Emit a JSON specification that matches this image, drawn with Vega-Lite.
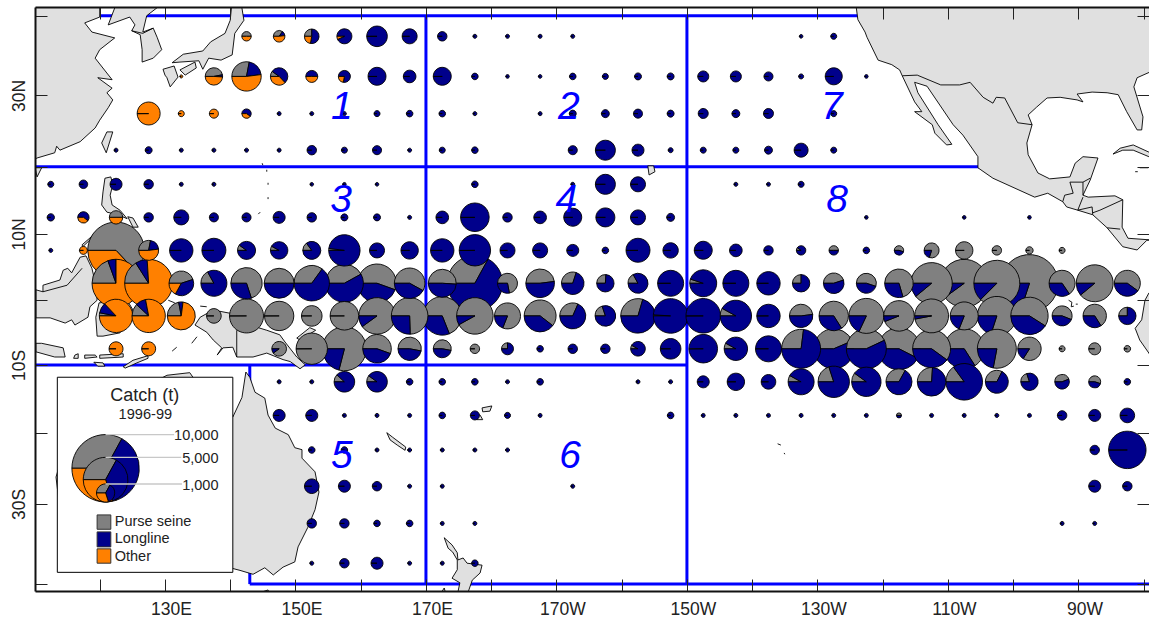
{"$schema":"https://vega.github.io/schema/vega-lite/v6.json","width":1114,"height":584,"autosize":{"type":"none"},"padding":{"left":35,"top":7,"right":0,"bottom":31},"background":"white","view":{"stroke":null},"config":{"font":"Liberation Sans"},
"datasets":{
"land":[
{"p":"china","lon":107.8,"y":45.9},{"p":"china","lon":120.0,"y":45.9},{"p":"china","lon":120.0,"y":43.3},{"p":"china","lon":117.7,"y":42.4},{"p":"china","lon":118.8,"y":41.0},{"p":"china","lon":122.3,"y":40.1},{"p":"china","lon":120.0,"y":38.3},{"p":"china","lon":119.3,"y":37.0},{"p":"china","lon":121.9,"y":33.7},{"p":"china","lon":119.7,"y":34.0},{"p":"china","lon":121.9,"y":32.4},{"p":"china","lon":121.1,"y":31.7},{"p":"china","lon":122.0,"y":30.6},{"p":"china","lon":121.3,"y":29.4},{"p":"china","lon":120.0,"y":27.5},{"p":"china","lon":119.3,"y":26.3},{"p":"china","lon":117.0,"y":24.2},{"p":"china","lon":113.9,"y":22.9},{"p":"china","lon":113.4,"y":23.5},{"p":"china","lon":113.1,"y":22.5},{"p":"china","lon":110.4,"y":21.7},{"p":"china","lon":107.8,"y":20.3},{"p":"china","lon":107.8,"y":45.9},
{"p":"korea","lon":122.3,"y":45.9},{"p":"korea","lon":122.3,"y":44.7},{"p":"korea","lon":121.3,"y":42.1},{"p":"korea","lon":124.6,"y":43.3},{"p":"korea","lon":125.4,"y":42.1},{"p":"korea","lon":124.9,"y":41.2},{"p":"korea","lon":126.2,"y":40.6},{"p":"korea","lon":126.5,"y":38.3},{"p":"korea","lon":126.5,"y":36.4},{"p":"korea","lon":128.2,"y":37.0},{"p":"korea","lon":129.5,"y":38.3},{"p":"korea","lon":128.8,"y":40.2},{"p":"korea","lon":128.2,"y":41.6},{"p":"korea","lon":126.6,"y":41.0},{"p":"korea","lon":127.2,"y":43.5},{"p":"korea","lon":130.3,"y":45.9},{"p":"korea","lon":122.3,"y":45.9},
{"p":"japan","lon":140.3,"y":45.9},{"p":"japan","lon":141.6,"y":45.9},{"p":"japan","lon":142.1,"y":42.8},{"p":"japan","lon":140.7,"y":40.8},{"p":"japan","lon":140.3,"y":37.5},{"p":"japan","lon":138.6,"y":36.7},{"p":"japan","lon":136.7,"y":37.0},{"p":"japan","lon":135.8,"y":35.3},{"p":"japan","lon":135.2,"y":36.6},{"p":"japan","lon":132.3,"y":36.4},{"p":"japan","lon":131.1,"y":36.3},{"p":"japan","lon":132.8,"y":37.6},{"p":"japan","lon":135.8,"y":38.1},{"p":"japan","lon":137.0,"y":39.5},{"p":"japan","lon":139.2,"y":40.8},{"p":"japan","lon":140.0,"y":42.8},{"p":"japan","lon":140.3,"y":45.9},
{"p":"shikoku","lon":132.3,"y":35.2},{"p":"shikoku","lon":134.6,"y":36.4},{"p":"shikoku","lon":134.8,"y":35.5},{"p":"shikoku","lon":133.1,"y":34.4},{"p":"shikoku","lon":132.3,"y":35.2},
{"p":"kyushu","lon":129.7,"y":35.3},{"p":"kyushu","lon":131.4,"y":35.8},{"p":"kyushu","lon":132.0,"y":34.1},{"p":"kyushu","lon":130.8,"y":32.6},{"p":"kyushu","lon":130.3,"y":34.0},{"p":"kyushu","lon":130.0,"y":34.4},{"p":"kyushu","lon":129.7,"y":35.3},
{"p":"taiwan","lon":120.3,"y":24.0},{"p":"taiwan","lon":121.1,"y":25.7},{"p":"taiwan","lon":122.0,"y":25.7},{"p":"taiwan","lon":121.0,"y":22.5},{"p":"taiwan","lon":120.3,"y":24.0},
{"p":"hainan","lon":110.1,"y":20.2},{"p":"hainan","lon":111.1,"y":20.2},{"p":"hainan","lon":110.4,"y":18.8},{"p":"hainan","lon":110.1,"y":20.2},
{"p":"luzon","lon":120.8,"y":18.6},{"p":"luzon","lon":121.7,"y":18.8},{"p":"luzon","lon":122.0,"y":17.6},{"p":"luzon","lon":121.6,"y":16.0},{"p":"luzon","lon":121.9,"y":14.5},{"p":"luzon","lon":123.1,"y":13.7},{"p":"luzon","lon":124.2,"y":12.4},{"p":"luzon","lon":122.8,"y":13.0},{"p":"luzon","lon":121.1,"y":13.4},{"p":"luzon","lon":120.3,"y":14.5},{"p":"luzon","lon":120.5,"y":16.5},{"p":"luzon","lon":120.8,"y":18.6},
{"p":"samar","lon":124.3,"y":12.7},{"p":"samar","lon":125.1,"y":12.5},{"p":"samar","lon":125.9,"y":11.1},{"p":"samar","lon":125.1,"y":11.1},{"p":"samar","lon":124.3,"y":12.7},
{"p":"palawan","lon":117.3,"y":8.4},{"p":"palawan","lon":119.6,"y":10.4},{"p":"palawan","lon":119.6,"y":10.2},{"p":"palawan","lon":117.4,"y":8.1},{"p":"palawan","lon":117.3,"y":8.4},
{"p":"borneo","lon":110.2,"y":1.5},{"p":"borneo","lon":111.3,"y":1.2},{"p":"borneo","lon":111.3,"y":2.2},{"p":"borneo","lon":113.9,"y":3.0},{"p":"borneo","lon":114.4,"y":4.5},{"p":"borneo","lon":115.1,"y":4.8},{"p":"borneo","lon":115.7,"y":4.1},{"p":"borneo","lon":117.0,"y":6.5},{"p":"borneo","lon":117.9,"y":6.7},{"p":"borneo","lon":118.8,"y":4.8},{"p":"borneo","lon":119.3,"y":2.7},{"p":"borneo","lon":119.6,"y":-0.1},{"p":"borneo","lon":118.5,"y":-1.1},{"p":"borneo","lon":118.2,"y":-2.7},{"p":"borneo","lon":116.2,"y":-3.9},{"p":"borneo","lon":115.7,"y":-3.1},{"p":"borneo","lon":114.7,"y":-3.6},{"p":"borneo","lon":112.4,"y":-2.8},{"p":"borneo","lon":110.2,"y":-2.8},{"p":"borneo","lon":110.2,"y":1.5},
{"p":"sulawesi","lon":119.9,"y":-0.5},{"p":"sulawesi","lon":124.2,"y":-0.1},{"p":"sulawesi","lon":125.1,"y":-1.6},{"p":"sulawesi","lon":123.1,"y":-5.1},{"p":"sulawesi","lon":120.5,"y":-5.6},{"p":"sulawesi","lon":119.6,"y":-5.6},{"p":"sulawesi","lon":119.4,"y":-2.7},{"p":"sulawesi","lon":119.9,"y":-0.5},
{"p":"java","lon":110.2,"y":-6.7},{"p":"java","lon":111.1,"y":-6.7},{"p":"java","lon":114.4,"y":-7.4},{"p":"java","lon":114.7,"y":-8.8},{"p":"java","lon":113.1,"y":-8.8},{"p":"java","lon":110.2,"y":-8.0},{"p":"java","lon":110.2,"y":-6.7},
{"p":"bali","lon":116.2,"y":-8.5},{"p":"bali","lon":116.7,"y":-8.3},{"p":"bali","lon":116.7,"y":-9.0},{"p":"bali","lon":116.0,"y":-9.0},{"p":"bali","lon":116.2,"y":-8.5},
{"p":"sumbawa","lon":117.7,"y":-8.5},{"p":"sumbawa","lon":119.3,"y":-8.5},{"p":"sumbawa","lon":119.6,"y":-8.8},{"p":"sumbawa","lon":117.7,"y":-9.0},{"p":"sumbawa","lon":117.7,"y":-8.5},
{"p":"flores","lon":120.0,"y":-8.5},{"p":"flores","lon":123.6,"y":-8.3},{"p":"flores","lon":123.6,"y":-8.8},{"p":"flores","lon":120.0,"y":-9.0},{"p":"flores","lon":120.0,"y":-8.5},
{"p":"sumba","lon":119.1,"y":-9.6},{"p":"sumba","lon":120.5,"y":-9.7},{"p":"sumba","lon":120.8,"y":-10.2},{"p":"sumba","lon":119.7,"y":-10.2},{"p":"sumba","lon":119.1,"y":-9.6},
{"p":"timor","lon":123.6,"y":-10.3},{"p":"timor","lon":125.1,"y":-9.3},{"p":"timor","lon":127.4,"y":-8.6},{"p":"timor","lon":127.4,"y":-9.0},{"p":"timor","lon":125.7,"y":-9.7},{"p":"timor","lon":123.9,"y":-10.5},{"p":"timor","lon":123.6,"y":-10.3},
{"p":"guinea","lon":134.6,"y":-3.9},{"p":"guinea","lon":135.4,"y":-2.7},{"p":"guinea","lon":137.4,"y":-1.6},{"p":"guinea","lon":140.0,"y":-2.1},{"p":"guinea","lon":142.0,"y":-3.6},{"p":"guinea","lon":145.6,"y":-4.7},{"p":"guinea","lon":147.6,"y":-5.4},{"p":"guinea","lon":148.4,"y":-6.5},{"p":"guinea","lon":150.2,"y":-8.8},{"p":"guinea","lon":151.5,"y":-10.0},{"p":"guinea","lon":150.7,"y":-10.6},{"p":"guinea","lon":149.2,"y":-9.5},{"p":"guinea","lon":148.1,"y":-9.2},{"p":"guinea","lon":145.6,"y":-8.2},{"p":"guinea","lon":143.5,"y":-8.8},{"p":"guinea","lon":141.0,"y":-8.8},{"p":"guinea","lon":140.4,"y":-7.3},{"p":"guinea","lon":138.9,"y":-7.4},{"p":"guinea","lon":138.0,"y":-8.5},{"p":"guinea","lon":138.7,"y":-7.4},{"p":"guinea","lon":137.4,"y":-6.2},{"p":"guinea","lon":136.4,"y":-5.0},{"p":"guinea","lon":134.6,"y":-3.9},
{"p":"britain","lon":150.2,"y":-5.9},{"p":"britain","lon":152.2,"y":-4.3},{"p":"britain","lon":153.1,"y":-4.7},{"p":"britain","lon":150.7,"y":-6.2},{"p":"britain","lon":150.2,"y":-5.9},
{"p":"aus","lon":142.4,"y":-11.1},{"p":"aus","lon":143.0,"y":-11.9},{"p":"aus","lon":143.8,"y":-14.2},{"p":"aus","lon":145.3,"y":-15.1},{"p":"aus","lon":145.8,"y":-17.7},{"p":"aus","lon":146.9,"y":-19.7},{"p":"aus","lon":148.9,"y":-20.7},{"p":"aus","lon":149.9,"y":-22.7},{"p":"aus","lon":151.0,"y":-23.0},{"p":"aus","lon":151.0,"y":-24.3},{"p":"aus","lon":153.0,"y":-26.4},{"p":"aus","lon":153.6,"y":-29.5},{"p":"aus","lon":153.0,"y":-32.2},{"p":"aus","lon":151.9,"y":-34.9},{"p":"aus","lon":150.4,"y":-37.9},{"p":"aus","lon":149.9,"y":-40.2},{"p":"aus","lon":148.1,"y":-41.0},{"p":"aus","lon":146.6,"y":-42.2},{"p":"aus","lon":145.3,"y":-41.1},{"p":"aus","lon":143.5,"y":-42.1},{"p":"aus","lon":141.5,"y":-41.5},{"p":"aus","lon":135.4,"y":-39.9},{"p":"aus","lon":123.1,"y":-39.9},{"p":"aus","lon":113.9,"y":-32.2},{"p":"aus","lon":113.3,"y":-27.2},{"p":"aus","lon":115.4,"y":-20.0},{"p":"aus","lon":123.1,"y":-15.4},{"p":"aus","lon":130.3,"y":-11.6},{"p":"aus","lon":133.8,"y":-11.2},{"p":"aus","lon":135.4,"y":-13.5},{"p":"aus","lon":139.2,"y":-15.4},{"p":"aus","lon":140.4,"y":-18.0},{"p":"aus","lon":141.8,"y":-15.0},{"p":"aus","lon":142.4,"y":-11.1},
{"p":"tas","lon":144.9,"y":-44.8},{"p":"tas","lon":145.8,"y":-44.5},{"p":"tas","lon":146.1,"y":-45.4},{"p":"tas","lon":144.9,"y":-44.8},
{"p":"newcal","lon":164.0,"y":-20.4},{"p":"newcal","lon":164.9,"y":-21.1},{"p":"newcal","lon":166.9,"y":-22.6},{"p":"newcal","lon":166.8,"y":-23.1},{"p":"newcal","lon":165.6,"y":-22.3},{"p":"newcal","lon":164.5,"y":-21.5},{"p":"newcal","lon":164.0,"y":-20.4},
{"p":"fiji1","lon":178.6,"y":-16.6},{"p":"fiji1","lon":180.1,"y":-16.3},{"p":"fiji1","lon":179.8,"y":-17.1},{"p":"fiji1","lon":178.7,"y":-17.2},{"p":"fiji1","lon":178.6,"y":-16.6},
{"p":"fiji2","lon":177.1,"y":-17.4},{"p":"fiji2","lon":178.3,"y":-17.7},{"p":"fiji2","lon":178.7,"y":-18.4},{"p":"fiji2","lon":177.8,"y":-18.4},{"p":"fiji2","lon":177.1,"y":-17.4},
{"p":"nz","lon":172.8,"y":-36.5},{"p":"nz","lon":174.0,"y":-37.6},{"p":"nz","lon":174.8,"y":-38.8},{"p":"nz","lon":174.9,"y":-39.9},{"p":"nz","lon":175.7,"y":-39.6},{"p":"nz","lon":176.3,"y":-40.4},{"p":"nz","lon":178.6,"y":-40.7},{"p":"nz","lon":178.3,"y":-41.9},{"p":"nz","lon":177.1,"y":-43.0},{"p":"nz","lon":176.3,"y":-45.3},{"p":"nz","lon":174.8,"y":-45.3},{"p":"nz","lon":175.2,"y":-43.4},{"p":"nz","lon":174.0,"y":-42.7},{"p":"nz","lon":174.8,"y":-41.4},{"p":"nz","lon":174.8,"y":-39.9},{"p":"nz","lon":174.1,"y":-38.7},{"p":"nz","lon":173.4,"y":-38.1},{"p":"nz","lon":172.8,"y":-36.5},
{"p":"nzs","lon":172.1,"y":-45.3},{"p":"nzs","lon":172.8,"y":-44.2},{"p":"nzs","lon":173.1,"y":-45.3},{"p":"nzs","lon":172.1,"y":-45.3},
{"p":"hawaii","lon":204.0,"y":20.5},{"p":"hawaii","lon":204.9,"y":20.5},{"p":"hawaii","lon":205.1,"y":19.6},{"p":"hawaii","lon":204.2,"y":19.1},{"p":"hawaii","lon":204.0,"y":20.5},
{"p":"cuba","lon":275.3,"y":22.3},{"p":"cuba","lon":276.4,"y":23.2},{"p":"cuba","lon":278.4,"y":23.7},{"p":"cuba","lon":280.8,"y":22.6},{"p":"cuba","lon":281.7,"y":21.9},{"p":"cuba","lon":280.8,"y":21.9},{"p":"cuba","lon":278.4,"y":22.9},{"p":"cuba","lon":276.8,"y":22.9},{"p":"cuba","lon":275.3,"y":22.3},
{"p":"sam","lon":281.7,"y":1.0},{"p":"sam","lon":280.8,"y":1.0},{"p":"sam","lon":280.2,"y":-0.1},{"p":"sam","lon":279.7,"y":-3.1},{"p":"sam","lon":278.7,"y":-4.4},{"p":"sam","lon":279.4,"y":-6.2},{"p":"sam","lon":280.8,"y":-8.2},{"p":"sam","lon":281.7,"y":-10.0},{"p":"sam","lon":281.7,"y":1.0},
{"p":"nam","lon":235.7,"y":46.7},{"p":"nam","lon":236.2,"y":42.9},{"p":"nam","lon":237.3,"y":41.0},{"p":"nam","lon":237.6,"y":40.2},{"p":"nam","lon":239.3,"y":36.7},{"p":"nam","lon":241.4,"y":36.0},{"p":"nam","lon":242.6,"y":35.2},{"p":"nam","lon":243.0,"y":34.3},{"p":"nam","lon":244.9,"y":30.3},{"p":"nam","lon":246.0,"y":28.8},{"p":"nam","lon":244.9,"y":28.8},{"p":"nam","lon":247.6,"y":26.8},{"p":"nam","lon":248.0,"y":25.5},{"p":"nam","lon":249.8,"y":23.7},{"p":"nam","lon":250.6,"y":23.8},{"p":"nam","lon":248.5,"y":26.8},{"p":"nam","lon":245.4,"y":31.7},{"p":"nam","lon":244.9,"y":33.3},{"p":"nam","lon":246.8,"y":32.7},{"p":"nam","lon":250.8,"y":26.8},{"p":"nam","lon":252.3,"y":25.2},{"p":"nam","lon":254.6,"y":21.9},{"p":"nam","lon":254.6,"y":20.2},{"p":"nam","lon":256.9,"y":18.6},{"p":"nam","lon":263.3,"y":15.7},{"p":"nam","lon":265.3,"y":16.3},{"p":"nam","lon":267.6,"y":15.0},{"p":"nam","lon":268.2,"y":14.2},{"p":"nam","lon":269.9,"y":13.7},{"p":"nam","lon":272.2,"y":13.0},{"p":"nam","lon":274.4,"y":11.0},{"p":"nam","lon":276.8,"y":8.1},{"p":"nam","lon":279.0,"y":7.6},{"p":"nam","lon":280.5,"y":9.1},{"p":"nam","lon":281.7,"y":9.1},{"p":"nam","lon":277.6,"y":9.4},{"p":"nam","lon":276.7,"y":11.1},{"p":"nam","lon":276.8,"y":15.3},{"p":"nam","lon":275.6,"y":15.9},{"p":"nam","lon":271.5,"y":15.7},{"p":"nam","lon":270.7,"y":16.0},{"p":"nam","lon":271.8,"y":18.3},{"p":"nam","lon":273.0,"y":21.7},{"p":"nam","lon":270.7,"y":21.9},{"p":"nam","lon":269.5,"y":20.9},{"p":"nam","lon":268.7,"y":18.8},{"p":"nam","lon":265.6,"y":18.5},{"p":"nam","lon":263.8,"y":19.4},{"p":"nam","lon":262.3,"y":22.2},{"p":"nam","lon":262.1,"y":24.0},{"p":"nam","lon":262.9,"y":26.8},{"p":"nam","lon":262.3,"y":28.3},{"p":"nam","lon":263.6,"y":29.5},{"p":"nam","lon":265.2,"y":30.9},{"p":"nam","lon":267.2,"y":31.0},{"p":"nam","lon":269.8,"y":30.6},{"p":"nam","lon":270.7,"y":30.3},{"p":"nam","lon":269.8,"y":31.5},{"p":"nam","lon":272.1,"y":31.8},{"p":"nam","lon":274.4,"y":31.7},{"p":"nam","lon":276.1,"y":31.4},{"p":"nam","lon":277.4,"y":28.8},{"p":"nam","lon":279.0,"y":26.0},{"p":"nam","lon":279.7,"y":26.0},{"p":"nam","lon":279.9,"y":28.0},{"p":"nam","lon":278.5,"y":32.6},{"p":"nam","lon":279.0,"y":34.0},{"p":"nam","lon":281.7,"y":35.2},{"p":"nam","lon":281.7,"y":46.7},{"p":"nam","lon":235.7,"y":46.7}
],
"borders":[
{"p":"usmx","lon":243.0,"y":34.3},{"p":"usmx","lon":245.3,"y":34.4},{"p":"usmx","lon":248.9,"y":32.9},{"p":"usmx","lon":251.8,"y":32.9},{"p":"usmx","lon":253.4,"y":33.3},{"p":"usmx","lon":255.4,"y":31.0},{"p":"usmx","lon":256.9,"y":30.1},{"p":"usmx","lon":257.4,"y":31.0},{"p":"usmx","lon":258.7,"y":30.9},{"p":"usmx","lon":260.7,"y":27.1},{"p":"usmx","lon":262.9,"y":26.8},
{"p":"mxgt","lon":267.6,"y":15.0},{"p":"mxgt","lon":267.9,"y":16.0},{"p":"mxgt","lon":269.2,"y":16.3},{"p":"mxgt","lon":268.7,"y":18.0},{"p":"mxgt","lon":270.7,"y":18.0},{"p":"mxgt","lon":271.8,"y":18.6},
{"p":"bz","lon":270.7,"y":18.0},{"p":"bz","lon":270.7,"y":16.0},
{"p":"gh","lon":270.7,"y":15.7},{"p":"gh","lon":269.9,"y":13.7},
{"p":"es","lon":269.9,"y":13.7},{"p":"es","lon":272.1,"y":14.2},{"p":"es","lon":272.2,"y":13.0},
{"p":"hn","lon":272.2,"y":13.3},{"p":"hn","lon":273.3,"y":13.7},{"p":"hn","lon":276.8,"y":15.3},
{"p":"nc","lon":274.4,"y":11.0},{"p":"nc","lon":276.4,"y":10.8},
{"p":"nk","lon":124.9,"y":41.2},{"p":"nk","lon":126.6,"y":40.8},{"p":"nk","lon":128.2,"y":41.6},
{"p":"bor","lon":111.3,"y":1.2},{"p":"bor","lon":115.0,"y":2.2},{"p":"bor","lon":117.3,"y":4.8},
{"p":"png","lon":141.0,"y":-4.7},{"p":"png","lon":141.0,"y":-8.8},
{"p":"s1","lon":144.9,"y":20.9},{"p":"s1","lon":145.0,"y":20.6},
{"p":"s2","lon":145.6,"y":19.9},{"p":"s2","lon":145.6,"y":19.6},
{"p":"s3","lon":145.8,"y":17.9},{"p":"s3","lon":145.8,"y":17.6},
{"p":"s4","lon":145.8,"y":15.7},{"p":"s4","lon":145.8,"y":15.4},
{"p":"s5","lon":144.6,"y":13.4},{"p":"s5","lon":144.3,"y":13.1},
{"p":"d1","lon":131.1,"y":-7.9},{"p":"d1","lon":131.8,"y":-7.3},
{"p":"d2","lon":134.1,"y":-6.7},{"p":"d2","lon":134.9,"y":-5.7},
{"p":"d3","lon":130.5,"y":-0.1},{"p":"d3","lon":131.5,"y":-0.5},
{"p":"d4","lon":135.4,"y":-1.0},{"p":"d4","lon":136.4,"y":-1.1},
{"p":"c1","lon":278.7,"y":19.6},{"p":"c1","lon":279.1,"y":19.6},
{"p":"c2","lon":279.4,"y":20.2},{"p":"c2","lon":280.7,"y":20.2},
{"p":"g1","lon":268.5,"y":-0.1},{"p":"g1","lon":269.0,"y":-0.4},{"p":"g1","lon":268.9,"y":-1.1},{"p":"g1","lon":269.3,"y":-1.0},
{"p":"g2","lon":269.6,"y":-0.7},{"p":"g2","lon":269.9,"y":-0.7},
{"p":"q1","lon":223.9,"y":-22.1},{"p":"q1","lon":224.4,"y":-22.3},
{"p":"q2","lon":224.9,"y":-23.5},{"p":"q2","lon":225.0,"y":-23.7}
],
"regions":[
{"lon":120,"lon2":245,"y":43.5,"y2":43.5},
{"lon":110.08,"lon2":262,"y":20.37,"y2":20.37},
{"lon":110.08,"lon2":210,"y":-10.02,"y2":-10.02},
{"lon":143,"lon2":280.82,"y":-43.6,"y2":-43.6},
{"lon":170,"lon2":170,"y":43.5,"y2":-43.6},
{"lon":210,"lon2":210,"y":43.5,"y2":-43.6},
{"lon":143,"lon2":143,"y":-10.02,"y2":-43.6}
],
"pies":[
{"lon":142.5,"y":40.35,"catch":195,"gear":"P","start":0,"end":0.5},{"lon":142.5,"y":40.35,"catch":195,"gear":"O","start":0.5,"end":1},
{"lon":147.5,"y":40.35,"catch":296,"gear":"P","start":0,"end":0.35},{"lon":147.5,"y":40.35,"catch":296,"gear":"L","start":0.35,"end":0.48},{"lon":147.5,"y":40.35,"catch":296,"gear":"O","start":0.48,"end":1},
{"lon":152.5,"y":40.35,"catch":470,"gear":"P","start":0,"end":0.25},{"lon":152.5,"y":40.35,"catch":470,"gear":"L","start":0.25,"end":0.78},{"lon":152.5,"y":40.35,"catch":470,"gear":"O","start":0.78,"end":1},
{"lon":157.5,"y":40.35,"catch":495,"gear":"L","start":0,"end":0.93},{"lon":157.5,"y":40.35,"catch":495,"gear":"O","start":0.93,"end":1},
{"lon":162.5,"y":40.35,"catch":935,"gear":"L","start":0,"end":0.999},{"lon":167.5,"y":40.35,"catch":495,"gear":"L","start":0,"end":0.999},{"lon":172.5,"y":40.35,"catch":195,"gear":"L","start":0,"end":0.999},{"lon":177.5,"y":40.35,"catch":35,"gear":"L","start":0,"end":0.999},{"lon":182.5,"y":40.35,"catch":35,"gear":"L","start":0,"end":0.999},{"lon":187.5,"y":40.35,"catch":35,"gear":"L","start":0,"end":0.999},{"lon":192.5,"y":40.35,"catch":35,"gear":"L","start":0,"end":0.999},{"lon":227.5,"y":40.35,"catch":29,"gear":"L","start":0,"end":0.999},{"lon":232.5,"y":40.35,"catch":80,"gear":"L","start":0,"end":0.999},
{"lon":132.5,"y":34.2,"catch":20,"gear":"O","start":0,"end":0.999},
{"lon":137.5,"y":34.2,"catch":665,"gear":"P","start":0,"end":0.47},{"lon":137.5,"y":34.2,"catch":665,"gear":"L","start":0.47,"end":0.51},{"lon":137.5,"y":34.2,"catch":665,"gear":"O","start":0.51,"end":1},
{"lon":142.5,"y":34.2,"catch":1900,"gear":"P","start":0,"end":0.28},{"lon":142.5,"y":34.2,"catch":1900,"gear":"L","start":0.28,"end":0.48},{"lon":142.5,"y":34.2,"catch":1900,"gear":"O","start":0.48,"end":1},
{"lon":147.5,"y":34.2,"catch":665,"gear":"P","start":0,"end":0.1},{"lon":147.5,"y":34.2,"catch":665,"gear":"L","start":0.1,"end":0.63},{"lon":147.5,"y":34.2,"catch":665,"gear":"O","start":0.63,"end":1},
{"lon":152.5,"y":34.2,"catch":317,"gear":"L","start":0,"end":0.5},{"lon":152.5,"y":34.2,"catch":317,"gear":"O","start":0.5,"end":1},
{"lon":157.5,"y":34.2,"catch":317,"gear":"L","start":0,"end":0.78},{"lon":157.5,"y":34.2,"catch":317,"gear":"O","start":0.78,"end":1},
{"lon":162.5,"y":34.2,"catch":713,"gear":"L","start":0,"end":0.999},{"lon":167.5,"y":34.2,"catch":350,"gear":"L","start":0,"end":0.999},{"lon":172.5,"y":34.2,"catch":713,"gear":"L","start":0,"end":0.999},{"lon":177.5,"y":34.2,"catch":95,"gear":"L","start":0,"end":0.999},{"lon":182.5,"y":34.2,"catch":29,"gear":"L","start":0,"end":0.999},{"lon":187.5,"y":34.2,"catch":29,"gear":"L","start":0,"end":0.999},{"lon":192.5,"y":34.2,"catch":95,"gear":"L","start":0,"end":0.999},{"lon":197.5,"y":34.2,"catch":80,"gear":"L","start":0,"end":0.999},{"lon":202.5,"y":34.2,"catch":108,"gear":"L","start":0,"end":0.999},{"lon":207.5,"y":34.2,"catch":108,"gear":"L","start":0,"end":0.999},{"lon":212.5,"y":34.2,"catch":266,"gear":"L","start":0,"end":0.999},{"lon":217.5,"y":34.2,"catch":266,"gear":"L","start":0,"end":0.999},{"lon":222.5,"y":34.2,"catch":180,"gear":"L","start":0,"end":0.999},{"lon":227.5,"y":34.2,"catch":55,"gear":"L","start":0,"end":0.999},{"lon":232.5,"y":34.2,"catch":640,"gear":"L","start":0,"end":0.999},{"lon":237.5,"y":34.2,"catch":29,"gear":"L","start":0,"end":0.999},
{"lon":127.5,"y":28.5,"catch":1165,"gear":"O","start":0,"end":0.999},{"lon":132.5,"y":28.5,"catch":80,"gear":"O","start":0,"end":0.999},{"lon":137.5,"y":28.5,"catch":180,"gear":"O","start":0,"end":0.999},
{"lon":142.5,"y":28.5,"catch":195,"gear":"L","start":0,"end":0.6},{"lon":142.5,"y":28.5,"catch":195,"gear":"O","start":0.6,"end":1},
{"lon":147.5,"y":28.5,"catch":35,"gear":"L","start":0,"end":0.999},{"lon":152.5,"y":28.5,"catch":35,"gear":"L","start":0,"end":0.999},{"lon":157.5,"y":28.5,"catch":35,"gear":"L","start":0,"end":0.999},{"lon":162.5,"y":28.5,"catch":80,"gear":"L","start":0,"end":0.999},{"lon":167.5,"y":28.5,"catch":95,"gear":"L","start":0,"end":0.999},{"lon":172.5,"y":28.5,"catch":95,"gear":"L","start":0,"end":0.999},{"lon":177.5,"y":28.5,"catch":35,"gear":"L","start":0,"end":0.999},{"lon":187.5,"y":28.5,"catch":35,"gear":"L","start":0,"end":0.999},{"lon":192.5,"y":28.5,"catch":108,"gear":"L","start":0,"end":0.999},{"lon":197.5,"y":28.5,"catch":140,"gear":"L","start":0,"end":0.999},{"lon":202.5,"y":28.5,"catch":180,"gear":"L","start":0,"end":0.999},{"lon":207.5,"y":28.5,"catch":108,"gear":"L","start":0,"end":0.999},{"lon":212.5,"y":28.5,"catch":220,"gear":"L","start":0,"end":0.999},{"lon":217.5,"y":28.5,"catch":140,"gear":"L","start":0,"end":0.999},{"lon":222.5,"y":28.5,"catch":220,"gear":"L","start":0,"end":0.999},{"lon":232.5,"y":28.5,"catch":80,"gear":"L","start":0,"end":0.999},
{"lon":122.5,"y":22.9,"catch":35,"gear":"L","start":0,"end":0.999},{"lon":127.5,"y":22.9,"catch":108,"gear":"L","start":0,"end":0.999},{"lon":132.5,"y":22.9,"catch":35,"gear":"L","start":0,"end":0.999},{"lon":137.5,"y":22.9,"catch":35,"gear":"L","start":0,"end":0.999},{"lon":142.5,"y":22.9,"catch":35,"gear":"L","start":0,"end":0.999},{"lon":147.5,"y":22.9,"catch":35,"gear":"L","start":0,"end":0.999},{"lon":152.5,"y":22.9,"catch":195,"gear":"L","start":0,"end":0.999},{"lon":157.5,"y":22.9,"catch":80,"gear":"L","start":0,"end":0.999},{"lon":162.5,"y":22.9,"catch":180,"gear":"L","start":0,"end":0.999},{"lon":167.5,"y":22.9,"catch":35,"gear":"L","start":0,"end":0.999},{"lon":172.5,"y":22.9,"catch":80,"gear":"L","start":0,"end":0.999},{"lon":177.5,"y":22.9,"catch":95,"gear":"L","start":0,"end":0.999},{"lon":192.5,"y":22.9,"catch":180,"gear":"L","start":0,"end":0.999},{"lon":197.5,"y":22.9,"catch":880,"gear":"L","start":0,"end":0.999},{"lon":202.5,"y":22.9,"catch":317,"gear":"L","start":0,"end":0.999},{"lon":207.5,"y":22.9,"catch":55,"gear":"L","start":0,"end":0.999},{"lon":212.5,"y":22.9,"catch":80,"gear":"L","start":0,"end":0.999},{"lon":217.5,"y":22.9,"catch":80,"gear":"L","start":0,"end":0.999},{"lon":222.5,"y":22.9,"catch":140,"gear":"L","start":0,"end":0.999},{"lon":227.5,"y":22.9,"catch":430,"gear":"L","start":0,"end":0.999},{"lon":232.5,"y":22.9,"catch":80,"gear":"L","start":0,"end":0.999},
{"lon":112.5,"y":17.67,"catch":80,"gear":"L","start":0,"end":0.999},{"lon":117.5,"y":17.67,"catch":160,"gear":"L","start":0,"end":0.999},{"lon":122.5,"y":17.67,"catch":317,"gear":"L","start":0,"end":0.999},{"lon":127.5,"y":17.67,"catch":195,"gear":"L","start":0,"end":0.999},{"lon":132.5,"y":17.67,"catch":35,"gear":"L","start":0,"end":0.999},{"lon":137.5,"y":17.67,"catch":35,"gear":"L","start":0,"end":0.999},{"lon":152.5,"y":17.67,"catch":29,"gear":"L","start":0,"end":0.999},{"lon":157.5,"y":17.67,"catch":29,"gear":"L","start":0,"end":0.999},{"lon":162.5,"y":17.67,"catch":29,"gear":"L","start":0,"end":0.999},{"lon":177.5,"y":17.67,"catch":95,"gear":"L","start":0,"end":0.999},{"lon":192.5,"y":17.67,"catch":35,"gear":"L","start":0,"end":0.999},{"lon":197.5,"y":17.67,"catch":880,"gear":"L","start":0,"end":0.999},{"lon":202.5,"y":17.67,"catch":495,"gear":"L","start":0,"end":0.999},{"lon":217.5,"y":17.67,"catch":35,"gear":"L","start":0,"end":0.999},{"lon":222.5,"y":17.67,"catch":35,"gear":"L","start":0,"end":0.999},{"lon":227.5,"y":17.67,"catch":80,"gear":"L","start":0,"end":0.999},
{"lon":112.5,"y":12.6,"catch":120,"gear":"L","start":0,"end":0.999},
{"lon":117.5,"y":12.6,"catch":286,"gear":"L","start":0,"end":0.6},{"lon":117.5,"y":12.6,"catch":286,"gear":"O","start":0.6,"end":1},
{"lon":122.5,"y":12.6,"catch":395,"gear":"P","start":0,"end":0.5},{"lon":122.5,"y":12.6,"catch":395,"gear":"O","start":0.5,"end":1},
{"lon":127.5,"y":12.6,"catch":195,"gear":"L","start":0,"end":0.999},{"lon":132.5,"y":12.6,"catch":495,"gear":"L","start":0,"end":0.999},{"lon":137.5,"y":12.6,"catch":180,"gear":"L","start":0,"end":0.999},{"lon":142.5,"y":12.6,"catch":180,"gear":"L","start":0,"end":0.999},{"lon":147.5,"y":12.6,"catch":317,"gear":"L","start":0,"end":0.999},{"lon":152.5,"y":12.6,"catch":195,"gear":"L","start":0,"end":0.999},{"lon":157.5,"y":12.6,"catch":108,"gear":"L","start":0,"end":0.999},{"lon":162.5,"y":12.6,"catch":108,"gear":"L","start":0,"end":0.999},{"lon":167.5,"y":12.6,"catch":35,"gear":"L","start":0,"end":0.999},{"lon":172.5,"y":12.6,"catch":350,"gear":"L","start":0,"end":0.999},{"lon":177.5,"y":12.6,"catch":1800,"gear":"L","start":0,"end":0.999},{"lon":182.5,"y":12.6,"catch":195,"gear":"L","start":0,"end":0.999},{"lon":187.5,"y":12.6,"catch":350,"gear":"L","start":0,"end":0.999},{"lon":192.5,"y":12.6,"catch":713,"gear":"L","start":0,"end":0.999},{"lon":197.5,"y":12.6,"catch":795,"gear":"L","start":0,"end":0.999},{"lon":202.5,"y":12.6,"catch":495,"gear":"L","start":0,"end":0.999},{"lon":207.5,"y":12.6,"catch":140,"gear":"L","start":0,"end":0.999},{"lon":237.5,"y":12.6,"catch":29,"gear":"L","start":0,"end":0.999},{"lon":252.5,"y":12.6,"catch":29,"gear":"L","start":0,"end":0.999},{"lon":262.5,"y":12.6,"catch":29,"gear":"L","start":0,"end":0.999},
{"lon":112.5,"y":7.54,"catch":35,"gear":"L","start":0,"end":0.999},{"lon":117.5,"y":7.54,"catch":140,"gear":"O","start":0,"end":0.999},
{"lon":122.5,"y":7.54,"catch":7050,"gear":"P","start":0,"end":0.63},{"lon":122.5,"y":7.54,"catch":7050,"gear":"O","start":0.63,"end":1},
{"lon":127.5,"y":7.54,"catch":880,"gear":"P","start":0,"end":0.28},{"lon":127.5,"y":7.54,"catch":880,"gear":"L","start":0.28,"end":0.48},{"lon":127.5,"y":7.54,"catch":880,"gear":"O","start":0.48,"end":1},
{"lon":132.5,"y":7.54,"catch":1205,"gear":"L","start":0,"end":0.999},{"lon":137.5,"y":7.54,"catch":1270,"gear":"L","start":0,"end":0.999},
{"lon":142.5,"y":7.54,"catch":713,"gear":"P","start":0,"end":0.1},{"lon":142.5,"y":7.54,"catch":713,"gear":"L","start":0.1,"end":1},
{"lon":147.5,"y":7.54,"catch":665,"gear":"P","start":0,"end":0.08},{"lon":147.5,"y":7.54,"catch":665,"gear":"L","start":0.08,"end":1},
{"lon":152.5,"y":7.54,"catch":713,"gear":"P","start":0,"end":0.15},{"lon":152.5,"y":7.54,"catch":713,"gear":"L","start":0.15,"end":1},
{"lon":157.5,"y":7.54,"catch":2170,"gear":"P","start":0,"end":0.02},{"lon":157.5,"y":7.54,"catch":2170,"gear":"L","start":0.02,"end":1},
{"lon":162.5,"y":7.54,"catch":495,"gear":"L","start":0,"end":0.999},{"lon":167.5,"y":7.54,"catch":665,"gear":"L","start":0,"end":0.999},{"lon":172.5,"y":7.54,"catch":1205,"gear":"L","start":0,"end":0.999},{"lon":177.5,"y":7.54,"catch":2170,"gear":"L","start":0,"end":0.999},{"lon":182.5,"y":7.54,"catch":495,"gear":"L","start":0,"end":0.999},{"lon":187.5,"y":7.54,"catch":495,"gear":"L","start":0,"end":0.999},{"lon":192.5,"y":7.54,"catch":317,"gear":"L","start":0,"end":0.999},{"lon":197.5,"y":7.54,"catch":95,"gear":"L","start":0,"end":0.999},{"lon":202.5,"y":7.54,"catch":1270,"gear":"L","start":0,"end":0.999},{"lon":207.5,"y":7.54,"catch":520,"gear":"L","start":0,"end":0.999},{"lon":212.5,"y":7.54,"catch":713,"gear":"L","start":0,"end":0.999},{"lon":217.5,"y":7.54,"catch":350,"gear":"L","start":0,"end":0.999},{"lon":222.5,"y":7.54,"catch":195,"gear":"L","start":0,"end":0.999},
{"lon":227.5,"y":7.54,"catch":195,"gear":"P","start":0,"end":0.1},{"lon":227.5,"y":7.54,"catch":195,"gear":"L","start":0.1,"end":1},
{"lon":232.5,"y":7.54,"catch":195,"gear":"P","start":0,"end":0.5},{"lon":232.5,"y":7.54,"catch":195,"gear":"L","start":0.5,"end":1},
{"lon":237.5,"y":7.54,"catch":95,"gear":"L","start":0,"end":0.999},
{"lon":242.5,"y":7.54,"catch":195,"gear":"P","start":0,"end":0.55},{"lon":242.5,"y":7.54,"catch":195,"gear":"L","start":0.55,"end":1},
{"lon":247.5,"y":7.54,"catch":495,"gear":"P","start":0,"end":0.8},{"lon":247.5,"y":7.54,"catch":495,"gear":"L","start":0.8,"end":1},
{"lon":252.5,"y":7.54,"catch":665,"gear":"P","start":0,"end":0.999},{"lon":257.5,"y":7.54,"catch":195,"gear":"P","start":0,"end":0.999},{"lon":262.5,"y":7.54,"catch":120,"gear":"P","start":0,"end":0.999},{"lon":267.5,"y":7.54,"catch":80,"gear":"P","start":0,"end":0.999},
{"lon":122.5,"y":2.5,"catch":5070,"gear":"P","start":0,"end":0.195},{"lon":122.5,"y":2.5,"catch":5070,"gear":"L","start":0.195,"end":0.25},{"lon":122.5,"y":2.5,"catch":5070,"gear":"O","start":0.25,"end":1},
{"lon":127.5,"y":2.5,"catch":5070,"gear":"P","start":0,"end":0.16},{"lon":127.5,"y":2.5,"catch":5070,"gear":"L","start":0.16,"end":0.24},{"lon":127.5,"y":2.5,"catch":5070,"gear":"O","start":0.24,"end":1},
{"lon":132.5,"y":2.5,"catch":1330,"gear":"P","start":0,"end":0.45},{"lon":132.5,"y":2.5,"catch":1330,"gear":"L","start":0.45,"end":0.83},{"lon":132.5,"y":2.5,"catch":1330,"gear":"O","start":0.83,"end":1},
{"lon":137.5,"y":2.5,"catch":1490,"gear":"P","start":0,"end":0.17},{"lon":137.5,"y":2.5,"catch":1490,"gear":"L","start":0.17,"end":1},
{"lon":142.5,"y":2.5,"catch":2170,"gear":"P","start":0,"end":0.7},{"lon":142.5,"y":2.5,"catch":2170,"gear":"L","start":0.7,"end":1},
{"lon":147.5,"y":2.5,"catch":1980,"gear":"P","start":0,"end":0.5},{"lon":147.5,"y":2.5,"catch":1980,"gear":"L","start":0.5,"end":1},
{"lon":152.5,"y":2.5,"catch":2760,"gear":"P","start":0,"end":0.35},{"lon":152.5,"y":2.5,"catch":2760,"gear":"L","start":0.35,"end":1},
{"lon":157.5,"y":2.5,"catch":3180,"gear":"P","start":0,"end":0.42},{"lon":157.5,"y":2.5,"catch":3180,"gear":"L","start":0.42,"end":1},
{"lon":162.5,"y":2.5,"catch":3280,"gear":"P","start":0,"end":0.555},{"lon":162.5,"y":2.5,"catch":3280,"gear":"L","start":0.555,"end":1},
{"lon":167.5,"y":2.5,"catch":2060,"gear":"P","start":0,"end":0.58},{"lon":167.5,"y":2.5,"catch":2060,"gear":"L","start":0.58,"end":1},
{"lon":172.5,"y":2.5,"catch":1725,"gear":"P","start":0,"end":0.51},{"lon":172.5,"y":2.5,"catch":1725,"gear":"L","start":0.51,"end":1},
{"lon":177.5,"y":2.5,"catch":6750,"gear":"P","start":0,"end":0.33},{"lon":177.5,"y":2.5,"catch":6750,"gear":"L","start":0.33,"end":1},
{"lon":182.5,"y":2.5,"catch":880,"gear":"P","start":0,"end":0.72},{"lon":182.5,"y":2.5,"catch":880,"gear":"L","start":0.72,"end":1},
{"lon":187.5,"y":2.5,"catch":1800,"gear":"P","start":0,"end":0.48},{"lon":187.5,"y":2.5,"catch":1800,"gear":"L","start":0.48,"end":1},
{"lon":192.5,"y":2.5,"catch":1120,"gear":"P","start":0,"end":0.3},{"lon":192.5,"y":2.5,"catch":1120,"gear":"L","start":0.3,"end":1},
{"lon":197.5,"y":2.5,"catch":665,"gear":"P","start":0,"end":0.26},{"lon":197.5,"y":2.5,"catch":665,"gear":"L","start":0.26,"end":1},
{"lon":202.5,"y":2.5,"catch":880,"gear":"P","start":0,"end":0.17},{"lon":202.5,"y":2.5,"catch":880,"gear":"L","start":0.17,"end":1},
{"lon":207.5,"y":2.5,"catch":1490,"gear":"L","start":0,"end":0.999},
{"lon":212.5,"y":2.5,"catch":1600,"gear":"P","start":0,"end":0.05},{"lon":212.5,"y":2.5,"catch":1600,"gear":"L","start":0.05,"end":1},
{"lon":217.5,"y":2.5,"catch":1490,"gear":"L","start":0,"end":0.999},{"lon":222.5,"y":2.5,"catch":1205,"gear":"L","start":0,"end":0.999},
{"lon":227.5,"y":2.5,"catch":665,"gear":"P","start":0,"end":0.25},{"lon":227.5,"y":2.5,"catch":665,"gear":"L","start":0.25,"end":1},
{"lon":232.5,"y":2.5,"catch":935,"gear":"P","start":0,"end":0.45},{"lon":232.5,"y":2.5,"catch":935,"gear":"L","start":0.45,"end":1},
{"lon":237.5,"y":2.5,"catch":880,"gear":"P","start":0,"end":0.55},{"lon":237.5,"y":2.5,"catch":880,"gear":"L","start":0.55,"end":1},
{"lon":242.5,"y":2.5,"catch":1800,"gear":"P","start":0,"end":0.705},{"lon":242.5,"y":2.5,"catch":1800,"gear":"L","start":0.705,"end":1},
{"lon":247.5,"y":2.5,"catch":3770,"gear":"P","start":0,"end":0.89},{"lon":247.5,"y":2.5,"catch":3770,"gear":"L","start":0.89,"end":1},
{"lon":252.5,"y":2.5,"catch":5070,"gear":"P","start":0,"end":0.9},{"lon":252.5,"y":2.5,"catch":5070,"gear":"L","start":0.9,"end":1},
{"lon":257.5,"y":2.5,"catch":4660,"gear":"P","start":0,"end":0.875},{"lon":257.5,"y":2.5,"catch":4660,"gear":"L","start":0.875,"end":1},
{"lon":262.5,"y":2.5,"catch":7250,"gear":"P","start":0,"end":0.8},{"lon":262.5,"y":2.5,"catch":7250,"gear":"L","start":0.8,"end":1},
{"lon":267.5,"y":2.5,"catch":1490,"gear":"P","start":0,"end":0.655},{"lon":267.5,"y":2.5,"catch":1490,"gear":"L","start":0.655,"end":1},
{"lon":272.5,"y":2.5,"catch":3010,"gear":"P","start":0,"end":0.89},{"lon":272.5,"y":2.5,"catch":3010,"gear":"L","start":0.89,"end":1},
{"lon":277.5,"y":2.5,"catch":1490,"gear":"P","start":0,"end":0.6},{"lon":277.5,"y":2.5,"catch":1490,"gear":"L","start":0.6,"end":1},
{"lon":122.5,"y":-2.5,"catch":2450,"gear":"P","start":0,"end":0.03},{"lon":122.5,"y":-2.5,"catch":2450,"gear":"L","start":0.03,"end":0.13},{"lon":122.5,"y":-2.5,"catch":2450,"gear":"O","start":0.13,"end":1},
{"lon":127.5,"y":-2.5,"catch":2450,"gear":"P","start":0,"end":0.12},{"lon":127.5,"y":-2.5,"catch":2450,"gear":"L","start":0.12,"end":0.22},{"lon":127.5,"y":-2.5,"catch":2450,"gear":"O","start":0.22,"end":1},
{"lon":132.5,"y":-2.5,"catch":1725,"gear":"P","start":0,"end":0.22},{"lon":132.5,"y":-2.5,"catch":1725,"gear":"L","start":0.22,"end":0.27},{"lon":132.5,"y":-2.5,"catch":1725,"gear":"O","start":0.27,"end":1},
{"lon":137.5,"y":-2.5,"catch":470,"gear":"P","start":0,"end":0.999},{"lon":142.5,"y":-2.5,"catch":2540,"gear":"P","start":0,"end":0.999},{"lon":147.5,"y":-2.5,"catch":1900,"gear":"P","start":0,"end":0.999},{"lon":152.5,"y":-2.5,"catch":935,"gear":"P","start":0,"end":0.999},{"lon":157.5,"y":-2.5,"catch":1800,"gear":"P","start":0,"end":0.999},
{"lon":162.5,"y":-2.5,"catch":2950,"gear":"P","start":0,"end":0.9},{"lon":162.5,"y":-2.5,"catch":2950,"gear":"L","start":0.9,"end":1},
{"lon":167.5,"y":-2.5,"catch":2950,"gear":"P","start":0,"end":0.745},{"lon":167.5,"y":-2.5,"catch":2950,"gear":"L","start":0.745,"end":1},
{"lon":172.5,"y":-2.5,"catch":3280,"gear":"P","start":0,"end":0.69},{"lon":172.5,"y":-2.5,"catch":3280,"gear":"L","start":0.69,"end":1},
{"lon":177.5,"y":-2.5,"catch":2950,"gear":"P","start":0,"end":0.92},{"lon":177.5,"y":-2.5,"catch":2950,"gear":"L","start":0.92,"end":1},
{"lon":182.5,"y":-2.5,"catch":1490,"gear":"P","start":0,"end":0.81},{"lon":182.5,"y":-2.5,"catch":1490,"gear":"L","start":0.81,"end":1},
{"lon":187.5,"y":-2.5,"catch":2250,"gear":"P","start":0,"end":0.605},{"lon":187.5,"y":-2.5,"catch":2250,"gear":"L","start":0.605,"end":1},
{"lon":192.5,"y":-2.5,"catch":1490,"gear":"P","start":0,"end":0.316},{"lon":192.5,"y":-2.5,"catch":1490,"gear":"L","start":0.316,"end":1},
{"lon":197.5,"y":-2.5,"catch":935,"gear":"P","start":0,"end":0.2},{"lon":197.5,"y":-2.5,"catch":935,"gear":"L","start":0.2,"end":1},
{"lon":202.5,"y":-2.5,"catch":2630,"gear":"P","start":0,"end":0.295},{"lon":202.5,"y":-2.5,"catch":2630,"gear":"L","start":0.295,"end":1},
{"lon":207.5,"y":-2.5,"catch":2630,"gear":"P","start":0,"end":0.01},{"lon":207.5,"y":-2.5,"catch":2630,"gear":"L","start":0.01,"end":1},
{"lon":212.5,"y":-2.5,"catch":2630,"gear":"L","start":0,"end":0.999},
{"lon":217.5,"y":-2.5,"catch":2170,"gear":"P","start":0,"end":0.08},{"lon":217.5,"y":-2.5,"catch":2170,"gear":"L","start":0.08,"end":1},
{"lon":222.5,"y":-2.5,"catch":1205,"gear":"L","start":0,"end":0.999},
{"lon":227.5,"y":-2.5,"catch":1205,"gear":"P","start":0,"end":0.48},{"lon":227.5,"y":-2.5,"catch":1205,"gear":"L","start":0.48,"end":1},
{"lon":232.5,"y":-2.5,"catch":1900,"gear":"P","start":0,"end":0.66},{"lon":232.5,"y":-2.5,"catch":1900,"gear":"L","start":0.66,"end":1},
{"lon":237.5,"y":-2.5,"catch":2700,"gear":"P","start":0,"end":0.82},{"lon":237.5,"y":-2.5,"catch":2700,"gear":"L","start":0.82,"end":1},
{"lon":242.5,"y":-2.5,"catch":2060,"gear":"P","start":0,"end":0.94},{"lon":242.5,"y":-2.5,"catch":2060,"gear":"L","start":0.94,"end":1},
{"lon":247.5,"y":-2.5,"catch":2540,"gear":"P","start":0,"end":0.97},{"lon":247.5,"y":-2.5,"catch":2540,"gear":"L","start":0.97,"end":1},
{"lon":252.5,"y":-2.5,"catch":1725,"gear":"P","start":0,"end":0.81},{"lon":252.5,"y":-2.5,"catch":1725,"gear":"L","start":0.81,"end":1},
{"lon":257.5,"y":-2.5,"catch":3350,"gear":"P","start":0,"end":0.8},{"lon":257.5,"y":-2.5,"catch":3350,"gear":"L","start":0.8,"end":1},
{"lon":262.5,"y":-2.5,"catch":3080,"gear":"P","start":0,"end":0.59},{"lon":262.5,"y":-2.5,"catch":3080,"gear":"L","start":0.59,"end":1},
{"lon":267.5,"y":-2.5,"catch":880,"gear":"P","start":0,"end":0.56},{"lon":267.5,"y":-2.5,"catch":880,"gear":"L","start":0.56,"end":1},
{"lon":272.5,"y":-2.5,"catch":1205,"gear":"P","start":0,"end":0.66},{"lon":272.5,"y":-2.5,"catch":1205,"gear":"L","start":0.66,"end":1},
{"lon":277.5,"y":-2.5,"catch":665,"gear":"P","start":0,"end":0.25},{"lon":277.5,"y":-2.5,"catch":665,"gear":"L","start":0.25,"end":1},
{"lon":122.5,"y":-7.54,"catch":430,"gear":"O","start":0,"end":0.999},{"lon":127.5,"y":-7.54,"catch":430,"gear":"O","start":0,"end":0.999},
{"lon":147.5,"y":-7.54,"catch":470,"gear":"P","start":0,"end":0.9},{"lon":147.5,"y":-7.54,"catch":470,"gear":"L","start":0.9,"end":1},
{"lon":152.5,"y":-7.54,"catch":2170,"gear":"P","start":0,"end":0.999},
{"lon":157.5,"y":-7.54,"catch":4260,"gear":"P","start":0,"end":0.79},{"lon":157.5,"y":-7.54,"catch":4260,"gear":"L","start":0.79,"end":1},
{"lon":162.5,"y":-7.54,"catch":1800,"gear":"P","start":0,"end":0.555},{"lon":162.5,"y":-7.54,"catch":1800,"gear":"L","start":0.555,"end":1},
{"lon":167.5,"y":-7.54,"catch":1205,"gear":"P","start":0,"end":0.53},{"lon":167.5,"y":-7.54,"catch":1205,"gear":"L","start":0.53,"end":1},
{"lon":172.5,"y":-7.54,"catch":713,"gear":"P","start":0,"end":0.53},{"lon":172.5,"y":-7.54,"catch":713,"gear":"L","start":0.53,"end":1},
{"lon":177.5,"y":-7.54,"catch":195,"gear":"P","start":0,"end":0.999},
{"lon":182.5,"y":-7.54,"catch":317,"gear":"P","start":0,"end":0.25},{"lon":182.5,"y":-7.54,"catch":317,"gear":"L","start":0.25,"end":1},
{"lon":187.5,"y":-7.54,"catch":95,"gear":"L","start":0,"end":0.999},{"lon":192.5,"y":-7.54,"catch":195,"gear":"L","start":0,"end":0.999},{"lon":197.5,"y":-7.54,"catch":195,"gear":"L","start":0,"end":0.999},
{"lon":202.5,"y":-7.54,"catch":470,"gear":"P","start":0,"end":0.08},{"lon":202.5,"y":-7.54,"catch":470,"gear":"L","start":0.08,"end":1},
{"lon":207.5,"y":-7.54,"catch":935,"gear":"L","start":0,"end":0.999},{"lon":212.5,"y":-7.54,"catch":1800,"gear":"L","start":0,"end":0.999},
{"lon":217.5,"y":-7.54,"catch":1205,"gear":"P","start":0,"end":0.08},{"lon":217.5,"y":-7.54,"catch":1205,"gear":"L","start":0.08,"end":1},
{"lon":222.5,"y":-7.54,"catch":1490,"gear":"L","start":0,"end":0.999},
{"lon":227.5,"y":-7.54,"catch":3350,"gear":"P","start":0,"end":0.27},{"lon":227.5,"y":-7.54,"catch":3350,"gear":"L","start":0.27,"end":1},
{"lon":232.5,"y":-7.54,"catch":3520,"gear":"P","start":0,"end":0.436},{"lon":232.5,"y":-7.54,"catch":3520,"gear":"L","start":0.436,"end":1},
{"lon":237.5,"y":-7.54,"catch":3520,"gear":"P","start":0,"end":0.43},{"lon":237.5,"y":-7.54,"catch":3520,"gear":"L","start":0.43,"end":1},
{"lon":242.5,"y":-7.54,"catch":3880,"gear":"P","start":0,"end":0.575},{"lon":242.5,"y":-7.54,"catch":3880,"gear":"L","start":0.575,"end":1},
{"lon":247.5,"y":-7.54,"catch":3180,"gear":"P","start":0,"end":0.6},{"lon":247.5,"y":-7.54,"catch":3180,"gear":"L","start":0.6,"end":1},
{"lon":252.5,"y":-7.54,"catch":3520,"gear":"P","start":0,"end":0.66},{"lon":252.5,"y":-7.54,"catch":3520,"gear":"L","start":0.66,"end":1},
{"lon":257.5,"y":-7.54,"catch":3350,"gear":"P","start":0,"end":0.78},{"lon":257.5,"y":-7.54,"catch":3350,"gear":"L","start":0.78,"end":1},
{"lon":262.5,"y":-7.54,"catch":1205,"gear":"P","start":0,"end":0.84},{"lon":262.5,"y":-7.54,"catch":1205,"gear":"L","start":0.84,"end":1},
{"lon":267.5,"y":-7.54,"catch":80,"gear":"P","start":0,"end":0.999},{"lon":272.5,"y":-7.54,"catch":317,"gear":"P","start":0,"end":0.999},{"lon":277.5,"y":-7.54,"catch":95,"gear":"P","start":0,"end":0.999},
{"lon":147.5,"y":-12.6,"catch":35,"gear":"L","start":0,"end":0.999},{"lon":152.5,"y":-12.6,"catch":35,"gear":"L","start":0,"end":0.999},
{"lon":157.5,"y":-12.6,"catch":935,"gear":"P","start":0,"end":0.12},{"lon":157.5,"y":-12.6,"catch":935,"gear":"L","start":0.12,"end":1},
{"lon":162.5,"y":-12.6,"catch":935,"gear":"P","start":0,"end":0.1},{"lon":162.5,"y":-12.6,"catch":935,"gear":"L","start":0.1,"end":1},
{"lon":167.5,"y":-12.6,"catch":95,"gear":"L","start":0,"end":0.999},{"lon":172.5,"y":-12.6,"catch":95,"gear":"L","start":0,"end":0.999},{"lon":177.5,"y":-12.6,"catch":95,"gear":"L","start":0,"end":0.999},{"lon":182.5,"y":-12.6,"catch":35,"gear":"L","start":0,"end":0.999},{"lon":187.5,"y":-12.6,"catch":95,"gear":"L","start":0,"end":0.999},{"lon":202.5,"y":-12.6,"catch":35,"gear":"L","start":0,"end":0.999},{"lon":207.5,"y":-12.6,"catch":35,"gear":"L","start":0,"end":0.999},{"lon":212.5,"y":-12.6,"catch":317,"gear":"L","start":0,"end":0.999},{"lon":217.5,"y":-12.6,"catch":665,"gear":"L","start":0,"end":0.999},{"lon":222.5,"y":-12.6,"catch":470,"gear":"L","start":0,"end":0.999},
{"lon":227.5,"y":-12.6,"catch":1490,"gear":"P","start":0,"end":0.08},{"lon":227.5,"y":-12.6,"catch":1490,"gear":"L","start":0.08,"end":1},
{"lon":232.5,"y":-12.6,"catch":2170,"gear":"P","start":0,"end":0.2},{"lon":232.5,"y":-12.6,"catch":2170,"gear":"L","start":0.2,"end":1},
{"lon":237.5,"y":-12.6,"catch":1900,"gear":"P","start":0,"end":0.1},{"lon":237.5,"y":-12.6,"catch":1900,"gear":"L","start":0.1,"end":1},
{"lon":242.5,"y":-12.6,"catch":1490,"gear":"P","start":0,"end":0.33},{"lon":242.5,"y":-12.6,"catch":1490,"gear":"L","start":0.33,"end":1},
{"lon":247.5,"y":-12.6,"catch":1800,"gear":"P","start":0,"end":0.26},{"lon":247.5,"y":-12.6,"catch":1800,"gear":"L","start":0.26,"end":1},
{"lon":252.5,"y":-12.6,"catch":2950,"gear":"P","start":0,"end":0.15},{"lon":252.5,"y":-12.6,"catch":2950,"gear":"L","start":0.15,"end":1},
{"lon":257.5,"y":-12.6,"catch":1165,"gear":"P","start":0,"end":0.325},{"lon":257.5,"y":-12.6,"catch":1165,"gear":"L","start":0.325,"end":1},
{"lon":262.5,"y":-12.6,"catch":665,"gear":"P","start":0,"end":0.2},{"lon":262.5,"y":-12.6,"catch":665,"gear":"L","start":0.2,"end":1},
{"lon":267.5,"y":-12.6,"catch":470,"gear":"P","start":0,"end":0.44},{"lon":267.5,"y":-12.6,"catch":470,"gear":"L","start":0.44,"end":1},
{"lon":272.5,"y":-12.6,"catch":317,"gear":"P","start":0,"end":0.55},{"lon":272.5,"y":-12.6,"catch":317,"gear":"L","start":0.55,"end":1},
{"lon":277.5,"y":-12.6,"catch":95,"gear":"L","start":0,"end":0.999},
{"lon":147.5,"y":-17.75,"catch":317,"gear":"L","start":0,"end":0.999},{"lon":152.5,"y":-17.75,"catch":317,"gear":"L","start":0,"end":0.999},{"lon":157.5,"y":-17.75,"catch":35,"gear":"L","start":0,"end":0.999},{"lon":162.5,"y":-17.75,"catch":35,"gear":"L","start":0,"end":0.999},{"lon":167.5,"y":-17.75,"catch":35,"gear":"L","start":0,"end":0.999},{"lon":172.5,"y":-17.75,"catch":95,"gear":"L","start":0,"end":0.999},{"lon":177.5,"y":-17.75,"catch":180,"gear":"L","start":0,"end":0.999},{"lon":182.5,"y":-17.75,"catch":80,"gear":"L","start":0,"end":0.999},{"lon":187.5,"y":-17.75,"catch":35,"gear":"L","start":0,"end":0.999},{"lon":207.5,"y":-17.75,"catch":95,"gear":"L","start":0,"end":0.999},{"lon":212.5,"y":-17.75,"catch":35,"gear":"L","start":0,"end":0.999},{"lon":217.5,"y":-17.75,"catch":35,"gear":"L","start":0,"end":0.999},{"lon":222.5,"y":-17.75,"catch":35,"gear":"L","start":0,"end":0.999},{"lon":227.5,"y":-17.75,"catch":35,"gear":"L","start":0,"end":0.999},{"lon":232.5,"y":-17.75,"catch":35,"gear":"L","start":0,"end":0.999},{"lon":237.5,"y":-17.75,"catch":35,"gear":"L","start":0,"end":0.999},
{"lon":242.5,"y":-17.75,"catch":55,"gear":"P","start":0,"end":0.5},{"lon":242.5,"y":-17.75,"catch":55,"gear":"L","start":0.5,"end":1},
{"lon":247.5,"y":-17.75,"catch":35,"gear":"L","start":0,"end":0.999},{"lon":252.5,"y":-17.75,"catch":35,"gear":"L","start":0,"end":0.999},{"lon":257.5,"y":-17.75,"catch":35,"gear":"L","start":0,"end":0.999},{"lon":262.5,"y":-17.75,"catch":35,"gear":"L","start":0,"end":0.999},{"lon":267.5,"y":-17.75,"catch":195,"gear":"L","start":0,"end":0.999},{"lon":272.5,"y":-17.75,"catch":317,"gear":"L","start":0,"end":0.999},{"lon":277.5,"y":-17.75,"catch":470,"gear":"L","start":0,"end":0.999},
{"lon":152.5,"y":-23.05,"catch":95,"gear":"L","start":0,"end":0.999},{"lon":157.5,"y":-23.05,"catch":95,"gear":"L","start":0,"end":0.999},{"lon":162.5,"y":-23.05,"catch":35,"gear":"L","start":0,"end":0.999},{"lon":167.5,"y":-23.05,"catch":35,"gear":"L","start":0,"end":0.999},{"lon":172.5,"y":-23.05,"catch":35,"gear":"L","start":0,"end":0.999},{"lon":177.5,"y":-23.05,"catch":35,"gear":"L","start":0,"end":0.999},{"lon":182.5,"y":-23.05,"catch":35,"gear":"L","start":0,"end":0.999},{"lon":272.5,"y":-23.05,"catch":195,"gear":"L","start":0,"end":0.999},{"lon":277.5,"y":-23.05,"catch":3080,"gear":"L","start":0,"end":0.999},
{"lon":152.5,"y":-28.6,"catch":470,"gear":"L","start":0,"end":0.999},{"lon":157.5,"y":-28.6,"catch":317,"gear":"L","start":0,"end":0.999},{"lon":162.5,"y":-28.6,"catch":195,"gear":"L","start":0,"end":0.999},{"lon":167.5,"y":-28.6,"catch":35,"gear":"L","start":0,"end":0.999},{"lon":172.5,"y":-28.6,"catch":35,"gear":"L","start":0,"end":0.999},{"lon":192.5,"y":-28.6,"catch":35,"gear":"L","start":0,"end":0.999},{"lon":272.5,"y":-28.6,"catch":317,"gear":"L","start":0,"end":0.999},{"lon":277.5,"y":-28.6,"catch":195,"gear":"L","start":0,"end":0.999},
{"lon":152.5,"y":-34.3,"catch":195,"gear":"L","start":0,"end":0.999},{"lon":157.5,"y":-34.3,"catch":195,"gear":"L","start":0,"end":0.999},{"lon":162.5,"y":-34.3,"catch":95,"gear":"L","start":0,"end":0.999},{"lon":167.5,"y":-34.3,"catch":95,"gear":"L","start":0,"end":0.999},{"lon":172.5,"y":-34.3,"catch":35,"gear":"L","start":0,"end":0.999},{"lon":177.5,"y":-34.3,"catch":35,"gear":"L","start":0,"end":0.999},{"lon":267.5,"y":-34.3,"catch":35,"gear":"L","start":0,"end":0.999},{"lon":272.5,"y":-34.3,"catch":35,"gear":"L","start":0,"end":0.999},
{"lon":152.5,"y":-40.4,"catch":35,"gear":"L","start":0,"end":0.999},{"lon":157.5,"y":-40.4,"catch":195,"gear":"L","start":0,"end":0.999},{"lon":162.5,"y":-40.4,"catch":317,"gear":"L","start":0,"end":0.999},{"lon":167.5,"y":-40.4,"catch":35,"gear":"L","start":0,"end":0.999},{"lon":172.5,"y":-40.4,"catch":35,"gear":"L","start":0,"end":0.999},{"lon":177.5,"y":-40.4,"catch":95,"gear":"L","start":0,"end":0.999}
],
"keypies":[
{"lon":120.9,"y":-25.85,"catch":10000,"gear":"P","start":0,"end":0.33},{"lon":120.9,"y":-25.85,"catch":10000,"gear":"L","start":0.33,"end":0.7},{"lon":120.9,"y":-25.85,"catch":10000,"gear":"O","start":0.7,"end":1},
{"lon":120.9,"y":-27.6,"catch":4400,"gear":"P","start":0,"end":0.33},{"lon":120.9,"y":-27.6,"catch":4400,"gear":"L","start":0.33,"end":0.7},{"lon":120.9,"y":-27.6,"catch":4400,"gear":"O","start":0.7,"end":1},
{"lon":120.9,"y":-29.64,"catch":730,"gear":"P","start":0,"end":0.33},{"lon":120.9,"y":-29.64,"catch":730,"gear":"L","start":0.33,"end":0.7},{"lon":120.9,"y":-29.64,"catch":730,"gear":"O","start":0.7,"end":1}
]
},
"encoding":{
"x":{"field":"lon","type":"quantitative","axis":null,"scale":{"domain":[110.08,280.82],"nice":false,"zero":false}},
"y":{"field":"y","type":"quantitative","axis":null,"scale":{"domain":[-44.66,44.84],"nice":false,"zero":false}}
},
"layer":[
{"data":{"name":"regions"},"mark":{"type":"rule","color":"#0000ff","strokeWidth":3},
"encoding":{
"x":{"field":"lon","type":"quantitative","scale":{"domain":[110.08,280.82],"nice":false,"zero":false},"axis":{"orient":"top","values":[120,130,140,150,160,170,180,190,200,210,220,230,240,250,260,270,280],"labels":false,"title":null,"grid":false,"tickSize":-12,"tickColor":"#222222","tickWidth":1,"domainColor":"#111111","domainWidth":2,"zindex":1}},
"x2":{"field":"lon2"},
"y":{"field":"y","type":"quantitative","scale":{"domain":[-44.66,44.84],"nice":false,"zero":false},"axis":{"orient":"right","values":[43.5,31.3,20.37,10.05,0,-10.02,-20.4,-31.3,-43.6],"labels":false,"title":null,"grid":false,"tickSize":-12,"tickColor":"#222222","tickWidth":1,"domain":false,"zindex":1}},
"y2":{"field":"y2"}}},
{"data":{"name":"land"},"mark":{"type":"line","order":false,"fill":"#e0e0e0","stroke":"#000000","strokeWidth":0.9,"clip":true},
"encoding":{"detail":{"field":"p"},
"x":{"field":"lon","type":"quantitative","scale":{"domain":[110.08,280.82],"nice":false,"zero":false},"axis":{"orient":"bottom","values":[120,130,140,150,160,170,180,190,200,210,220,230,240,250,260,270,280],"labelExpr":"(datum.value-130)%20==0 ? (datum.value<=180 ? datum.value+'E' : (360-datum.value)+'W') : ''","labelFont":"Liberation Sans","labelFontSize":17.5,"labelColor":"#222222","labelOffset":6,"labelPadding":21,"labelFlush":false,"labelOverlap":false,"title":null,"grid":false,"tickSize":-12,"tickColor":"#222222","tickWidth":1,"domainColor":"#111111","domainWidth":2,"zindex":1}},
"y":{"field":"y","type":"quantitative","scale":{"domain":[-44.66,44.84],"nice":false,"zero":false},"axis":{"orient":"left","values":[43.5,31.3,20.37,10.05,0,-10.02,-20.4,-31.3,-43.6],"labelExpr":"datum.value==31.3 ? '30N' : datum.value==10.05 ? '10N' : datum.value==-10.02 ? '10S' : datum.value==-31.3 ? '30S' : ''","labelFont":"Liberation Sans","labelFontSize":17.5,"labelColor":"#222222","labelAngle":-90,"labelAlign":"center","labelBaseline":"bottom","labelPadding":18.5,"labelFlush":false,"labelOverlap":false,"title":null,"grid":false,"tickSize":-12,"tickColor":"#222222","tickWidth":1,"domainColor":"#111111","domainWidth":2,"zindex":1}}}},
{"data":{"name":"borders"},"mark":{"type":"line","order":false,"stroke":"#000000","strokeWidth":0.9,"clip":true},"encoding":{"detail":{"field":"p"}}},
{"data":{"name":"pies"},"mark":{"type":"arc","stroke":"#000000","strokeWidth":0.9},
"encoding":{
"theta":{"field":"start","type":"quantitative","stack":null,"scale":{"domain":[0,1],"range":[4.71239,10.99557]}},
"theta2":{"field":"end"},
"radius":{"field":"catch","type":"quantitative","scale":{"type":"sqrt","domain":[0,10000],"range":[0,33.7]}},
"color":{"field":"gear","type":"nominal","legend":null,"scale":{"domain":["P","L","O"],"range":["#808080","#00008b","#ff8000"]}},
"order":{"field":"catch","type":"quantitative","sort":"descending"}}},
{"data":{"values":[{"t":"1","lon":157.1,"y":29.5},{"t":"2","lon":191.9,"y":29.5},{"t":"7","lon":232.2,"y":29.5},{"t":"3","lon":157.0,"y":15.3},{"t":"4","lon":191.5,"y":15.3},{"t":"8","lon":233.0,"y":15.3},{"t":"5","lon":157.1,"y":-24},{"t":"6","lon":192.1,"y":-24}]},"mark":{"type":"text","font":"Liberation Sans","fontStyle":"italic","fontSize":39,"color":"#0000ff","baseline":"middle","align":"center"},"encoding":{"text":{"field":"t"}}},
{"data":{"values":[{"lon":113.5,"lon2":140.4,"y":-11.9,"y2":-41.8}]},"mark":{"type":"rect","fill":"white","stroke":"#000000","strokeWidth":1},"encoding":{"x2":{"field":"lon2"},"y2":{"field":"y2"}}},
{"data":{"name":"keypies"},"mark":{"type":"arc","stroke":"#000000","strokeWidth":0.9},
"encoding":{
"theta":{"field":"start","type":"quantitative","stack":null,"scale":{"domain":[0,1],"range":[4.71239,10.99557]}},
"theta2":{"field":"end"},
"radius":{"field":"catch","type":"quantitative","scale":{"type":"sqrt","domain":[0,10000],"range":[0,33.7]}},
"color":{"field":"gear","type":"nominal","legend":null,"scale":{"domain":["P","L","O"],"range":["#808080","#00008b","#ff8000"]}}}},
{"data":{"values":[{"lon":120.9,"lon2":131.4,"y":-20.7},{"lon":120.9,"lon2":132.5,"y":-24.17},{"lon":120.9,"lon2":132.6,"y":-28.26}]},"mark":{"type":"rule","color":"#c8c8c8","strokeWidth":1.3},"encoding":{"x2":{"field":"lon2"}}},
{"data":{"values":[{"lon":119.6,"lon2":121.7,"y":-33,"y2":-35.2,"gear":"P"},{"lon":119.6,"lon2":121.7,"y":-35.6,"y2":-37.9,"gear":"L"},{"lon":119.6,"lon2":121.7,"y":-38.2,"y2":-40.4,"gear":"O"}]},"mark":{"type":"rect","stroke":"#333333","strokeWidth":1},"encoding":{"x2":{"field":"lon2"},"y2":{"field":"y2"},"color":{"field":"gear","type":"nominal","legend":null,"scale":{"domain":["P","L","O"],"range":["#808080","#00008b","#ff8000"]}}}},
{"data":{"values":[{"t":"Catch (t)","lon":126.9,"y":-14.7}]},"mark":{"type":"text","font":"Liberation Sans","fontSize":18,"color":"#222222","align":"center","baseline":"middle"},"encoding":{"text":{"field":"t"}}},
{"data":{"values":[{"t":"1996-99","lon":127.0,"y":-17.7}]},"mark":{"type":"text","font":"Liberation Sans","fontSize":14.6,"color":"#222222","align":"center","baseline":"middle"},"encoding":{"text":{"field":"t"}}},
{"data":{"values":[{"t":"10,000","lon":138.2,"y":-20.9},{"t":"5,000","lon":138.2,"y":-24.4},{"t":"1,000","lon":138.2,"y":-28.6}]},"mark":{"type":"text","font":"Liberation Sans","fontSize":14.5,"color":"#222222","align":"right","baseline":"middle"},"encoding":{"text":{"field":"t"}}},
{"data":{"values":[{"t":"Purse seine","lon":122.3,"y":-34.1},{"t":"Longline","lon":122.3,"y":-36.7},{"t":"Other","lon":122.3,"y":-39.4}]},"mark":{"type":"text","font":"Liberation Sans","fontSize":14.5,"color":"#222222","align":"left","baseline":"middle"},"encoding":{"text":{"field":"t"}}}
],
"resolve":{"axis":{"x":"independent","y":"independent"}}
}
